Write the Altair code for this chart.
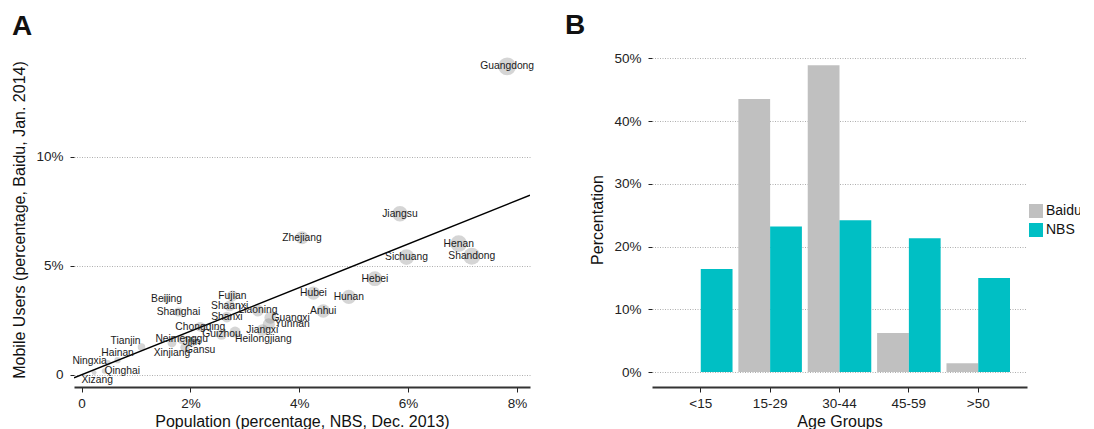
import altair as alt
import pandas as pd

# ---------------- data ----------------
provinces = ["Guangdong", "Jiangsu", "Zhejiang", "Henan", "Shandong", "Sichuang", "Hebei",
             "Hubei", "Hunan", "Anhui", "Beijing", "Shanghai", "Fujian", "Shaanxi", "Shanxi",
             "Liaoning", "Guangxi", "Yunnan", "Jiangxi", "Heilongjiang", "Guizhou", "Chongqing",
             "Neimenggu", "Jilin", "Gansu", "Xinjiang", "Tianjin", "Hainan", "Ningxia",
             "Qinghai", "Xizang"]
population = [7.82, 5.85, 4.05, 6.93, 7.17, 5.97, 5.39,
              4.26, 4.91, 4.44, 1.56, 1.78, 2.77, 2.72, 2.67,
              3.24, 3.47, 3.44, 3.32, 2.82, 2.57, 2.18,
              1.84, 2.02, 1.90, 1.66, 1.10, 0.66, 0.48,
              0.42, 0.23]
mobile_users = [14.15, 7.39, 6.29, 6.02, 5.44, 5.40, 4.41,
                3.75, 3.57, 2.93, 3.49, 2.88, 3.62, 3.16, 2.65,
                2.95, 2.62, 2.32, 2.05, 1.96, 1.85, 2.20,
                1.62, 1.50, 1.25, 1.46, 1.28, 0.67, 0.55,
                0.17, 0.10]

age_groups = ["<15", "15-29", "30-44", "45-59", ">50"]
baidu_share = [0.0, 43.5, 48.9, 6.2, 1.4]
nbs_share = [16.4, 23.2, 24.2, 21.3, 15.0]

x_ticks_a = [0, 2, 4, 6, 8]
y_ticks_a = [0, 5, 10]
y_ticks_b = [0, 10, 20, 30, 40, 50]

# ---------------- style ----------------
FONT = "Liberation Sans"
X_DOMAIN = [-0.14, 8.24]
Y_DOMAIN_A = [-0.56, 14.81]
Y_DOMAIN_B = [-2.39, 51.0]

# label placement (align, dx, dy); default is centred on the point
label_style = {
    "Tianjin": ("right", -1, -6),
    "Ningxia": ("right", -1, -2),
    "Hainan": ("center", 0, -7),
    "Qinghai": ("left", 0, 0),
    "Xizang": ("center", 3, 7),
    "Gansu": ("left", 0, 2),
    "Heilongjiang": ("left", 0, 7),
    "Guangxi": ("left", 1, 0),
    "Yunnan": ("left", 6, 0),
    "Xinjiang": ("center", 0, 10),
}

axis_common = dict(
    labelFont=FONT, titleFont=FONT, labelFontSize=13.5, titleFontSize=16,
    labelColor="#222", titleColor="#111", titleFontWeight="normal",
    tickColor="#222", gridColor="#999", gridDash=[1, 1.5], gridWidth=0.8,
)

# ---------------- panel A ----------------
dfA = pd.DataFrame({"province": provinces, "population": population, "users": mobile_users})

xA = alt.X("population:Q",
           scale=alt.Scale(domain=X_DOMAIN, nice=False, zero=False),
           axis=alt.Axis(values=x_ticks_a,
                         labelExpr="datum.value == 0 ? '0' : datum.value + '%'",
                         title="Population (percentage, NBS, Dec. 2013)",
                         grid=False, domain=True, domainColor="#333", domainWidth=2,
                         ticks=True, tickSize=5, labelPadding=4, titlePadding=4,
                         **axis_common))
yA = alt.Y("users:Q",
           scale=alt.Scale(domain=Y_DOMAIN_A, nice=False, zero=False),
           axis=alt.Axis(values=y_ticks_a,
                         labelExpr="datum.value == 0 ? '0' : datum.value + '%'",
                         title="Mobile Users (percentage, Baidu, Jan. 2014)",
                         grid=True, domain=False, tickSize=4, labelPadding=7, titlePadding=8,
                         **axis_common))

points = alt.Chart(dfA).mark_circle(color="#808080", opacity=0.33).encode(
    x=xA, y=yA,
    size=alt.Size("population:Q",
                  scale=alt.Scale(domain=[min(population), max(population)],
                                  range=[23, 314], zero=False),
                  legend=None),
)

ref_line = alt.Chart(pd.DataFrame({"population": X_DOMAIN, "users": X_DOMAIN})).mark_line(
    color="black", strokeWidth=1.5, clip=True
).encode(x="population:Q", y="users:Q")

default_names = [p for p in provinces if p not in label_style]
label_layers = [
    alt.Chart(dfA).transform_filter(alt.FieldOneOfPredicate(field="province", oneOf=default_names))
    .mark_text(font=FONT, fontSize=10.3, color="#1a1a1a", align="center", baseline="middle")
    .encode(x="population:Q", y="users:Q", text="province:N")
]
for name, (al, dx, dy) in label_style.items():
    label_layers.append(
        alt.Chart(dfA).transform_filter(alt.FieldEqualPredicate(field="province", equal=name))
        .mark_text(font=FONT, fontSize=10.3, color="#1a1a1a", align=al, baseline="middle",
                   dx=dx, dy=dy)
        .encode(x="population:Q", y="users:Q", text="province:N")
    )

panelA = alt.layer(points, ref_line, *label_layers).properties(
    width=456, height=335,
    title=alt.TitleParams("A", anchor="start", font=FONT, fontSize=28, fontWeight="bold",
                          color="#111", offset=11),
)

# ---------------- panel B ----------------
dfB = pd.DataFrame({
    "age": age_groups * 2,
    "source": ["Baidu"] * len(age_groups) + ["NBS"] * len(age_groups),
    "share": baidu_share + nbs_share,
})

bars = alt.Chart(dfB).mark_bar().encode(
    x=alt.X("age:N", sort=age_groups,
            scale=alt.Scale(paddingInner=0.084, paddingOuter=0.245),
            axis=alt.Axis(title="Age Groups", labelAngle=0, domain=True, domainColor="#333",
                          domainWidth=2, ticks=True, tickSize=5, labelPadding=4,
                          titlePadding=4, grid=False, **axis_common)),
    xOffset=alt.XOffset("source:N", sort=["Baidu", "NBS"],
                        scale=alt.Scale(paddingInner=0, paddingOuter=0)),
    y=alt.Y("share:Q", scale=alt.Scale(domain=Y_DOMAIN_B, nice=False, zero=False),
            axis=alt.Axis(values=y_ticks_b, labelExpr="datum.value + '%'",
                          title="Percentation", grid=True, domain=False, tickSize=4,
                          labelPadding=7, titlePadding=8, **axis_common)),
    y2=alt.datum(0),
    color=alt.Color("source:N",
                    scale=alt.Scale(domain=["Baidu", "NBS"], range=["#C0C0C0", "#00BFC4"]),
                    legend=alt.Legend(title=None, orient="none", legendX=955, legendY=152,
                                      symbolType="square", symbolSize=196, symbolStrokeWidth=0,
                                      symbolOpacity=1, labelFont=FONT, labelFontSize=14,
                                      labelOffset=3, labelColor="#111", rowPadding=5,
                                      padding=0)),
)

panelB = bars.properties(
    width=375, height=335,
    title=alt.TitleParams("B", anchor="start", font=FONT, fontSize=28, fontWeight="bold",
                          color="#111", offset=11, dx=-25),
)

chart = alt.hconcat(panelA, panelB, spacing=29).configure_view(stroke=None).properties(
    padding={"left": 3, "top": 4, "right": -2, "bottom": 0}
)

chart.save("out.html", embed_options={"renderer": "svg", "actions": False})
